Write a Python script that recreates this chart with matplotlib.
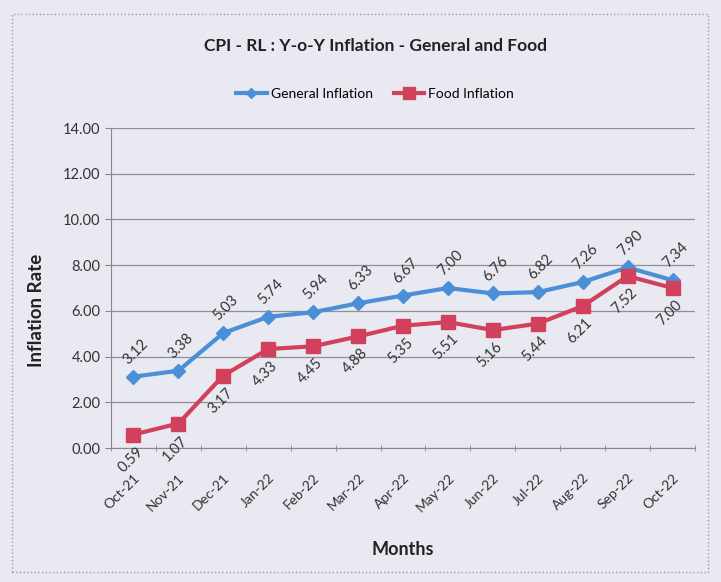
import matplotlib
matplotlib.use("Agg")
import matplotlib.pyplot as plt
from matplotlib.patches import Rectangle

plt.rcParams['font.family'] = ['Lato', 'DejaVu Sans']

months = ['Oct-21', 'Nov-21', 'Dec-21', 'Jan-22', 'Feb-22', 'Mar-22', 'Apr-22',
          'May-22', 'Jun-22', 'Jul-22', 'Aug-22', 'Sep-22', 'Oct-22']
general = [3.12, 3.38, 5.03, 5.74, 5.94, 6.33, 6.67, 7.00, 6.76, 6.82, 7.26, 7.90, 7.34]
food = [0.59, 1.07, 3.17, 4.33, 4.45, 4.88, 5.35, 5.51, 5.16, 5.44, 6.21, 7.52, 7.00]

bg = '#e9e9f1'
blue = '#4a8fd8'
red = '#d2415c'

fig = plt.figure(figsize=(7.21, 5.82), dpi=100, facecolor=bg)
# chart frame
fig.patches.append(Rectangle((12 / 721, 1 - 572 / 582), 696 / 721, 558 / 582,
                             transform=fig.transFigure, fill=False,
                             edgecolor='#9a9aa0', linewidth=1.0, linestyle=':'))

ax = fig.add_axes([111 / 721, 1 - 448 / 582, 584 / 721, 320 / 582])
ax.set_facecolor(bg)
x = range(len(months))

ax.plot(x, general, color=blue, lw=3, marker='D', ms=7, label='General Inflation', zorder=3)
ax.plot(x, food, color=red, lw=3, marker='s', ms=10, label='Food Inflation', zorder=3)

for i, v in enumerate(general):
    ax.annotate(f'{v:.2f}', (i, v), xytext=(2, 7), textcoords='offset points',
                rotation=45, ha='center', va='bottom', fontsize=10.5, color='#333333')
for i, v in enumerate(food):
    ax.annotate(f'{v:.2f}', (i, v), xytext=(-2, -7), textcoords='offset points',
                rotation=45, ha='center', va='top', fontsize=10.5, color='#333333')

ax.set_xlim(-0.5, len(months) - 0.5)
ax.set_ylim(0, 14)
ax.set_yticks([0, 2, 4, 6, 8, 10, 12, 14])
ax.set_yticklabels([f'{t:.2f}' for t in [0, 2, 4, 6, 8, 10, 12, 14]], fontsize=10.5, color='#333333')
ax.set_xticks(list(x))
ax.set_xticklabels(months, rotation=45, ha='right', rotation_mode='anchor',
                   fontsize=10, color='#333333')
ax.set_xticks([i - 0.5 for i in range(len(months) + 1)], minor=True)
ax.tick_params(axis='x', which='major', length=0, pad=17)
ax.tick_params(axis='x', which='minor', length=5, color='#888888', direction='inout')
ax.tick_params(axis='y', length=4, color='#888888')
ax.grid(axis='y', color='#8e8e94', lw=0.9)
ax.set_axisbelow(True)
for s in ['top', 'right']:
    ax.spines[s].set_visible(False)
ax.spines['left'].set_color('#888888')
ax.spines['bottom'].set_color('#888888')

ax.set_ylabel('Inflation Rate', fontsize=13.5, fontweight='bold', color='#222222')
ax.yaxis.set_label_coords(-0.113, 0.43)
ax.set_xlabel('Months', fontsize=13, fontweight='bold', color='#222222')
ax.xaxis.set_label_coords(0.5, -0.29)

fig.text(375 / 721, 1 - 46 / 582, 'CPI - RL : Y-o-Y Inflation - General and Food',
         ha='center', va='center', fontsize=12.5, fontweight='bold', color='#222222')
fig.legend(loc='center', bbox_to_anchor=(375 / 721, 1 - 94 / 582), ncol=2, frameon=False,
           fontsize=10, handlelength=2.2, columnspacing=1.5, handletextpad=0.3,
           markerscale=0.8)

fig.savefig('out.png', dpi=100, facecolor=bg)
